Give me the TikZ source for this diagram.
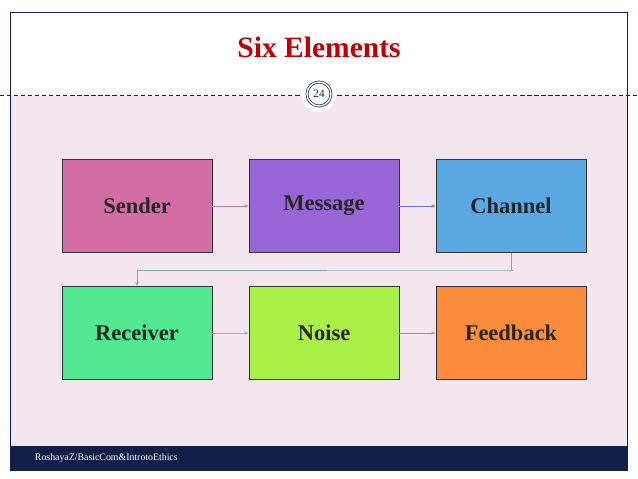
\documentclass[tikz,border=0pt]{standalone}
\usepackage{fontspec}
\setmainfont{Liberation Serif}
\usetikzlibrary{positioning,arrows.meta}

\begin{document}
\begin{tikzpicture}[x=0.025cm,y=-0.025cm,
    elem/.style={draw=black!80,line width=0.5pt,minimum width=150*0.025cm,minimum height=93*0.025cm,
      font=\fontsize{16}{18}\selectfont\bfseries,text=black!85},
    link/.style={line width=0.5pt,-{Stealth[length=3pt]}}]
    \definecolor{pinkbg}{RGB}{243,230,238}
    \definecolor{navy}{RGB}{16,32,72}
    \definecolor{titlered}{RGB}{192,0,0}
    \useasboundingbox (0,0) rectangle (638,479);
    \fill[white] (0,0) rectangle (638,479);
    \fill[pinkbg] (10,96) rectangle (627,446);
    \draw[navy,line width=0.6pt] (10,12) rectangle (627,470);
    \fill[navy] (10,446) rectangle (627,470);
    \draw[navy,densely dashed,line width=0.4pt] (0,95) -- (638,95);
    \node[font=\fontsize{21}{24}\selectfont\bfseries,text=titlered] (title) at (319,47) {Six Elements};
    \node[circle,fill=white,minimum size=34*0.025cm] (pagebg) at (319,95) {};
    \node[circle,draw=navy,double=white,double distance=1pt,line width=0.5pt,minimum size=24*0.025cm,
      inner sep=0,font=\fontsize{8}{9}\selectfont,text=navy] (page) at (319,94) {24};
    \node[anchor=west,text=white,font=\fontsize{7}{8}\selectfont] (foot) at (30,458) {RoshayaZ/BasicCom\&IntrotoEthics};

    % first row
    \node[elem,fill={rgb,255:red,210;green,110;blue,165}] (sender) at (137,206) {Sender};
    \node[elem,fill={rgb,255:red,152;green,102;blue,215}] (message) at (324,206) {Message};
    \node[elem,fill={rgb,255:red,90;green,168;blue,225}] (channel) at (511,206) {Channel};
    % second row
    \node[elem,fill={rgb,255:red,82;green,232;blue,145}] (receiver) at (137,333) {Receiver};
    \node[elem,fill={rgb,255:red,170;green,240;blue,70}] (noise) at (324,333) {Noise};
    \node[elem,fill={rgb,255:red,250;green,140;blue,60}] (feedback) at (511,333) {Feedback};

    \coordinate (turn) at (513,270);
    \draw[link,draw={rgb,255:red,200;green,120;blue,170}] (sender) -- (message);
    \draw[link,draw={rgb,255:red,100;green,120;blue,200}] (message) -- (channel);
    \draw[link,draw={rgb,255:red,120;green,170;blue,170}] (channel.south) |- (turn) -| (receiver.north);
    \draw[link,draw={rgb,255:red,120;green,200;blue,140}] (receiver) -- (noise);
    \draw[link,draw={rgb,255:red,220;green,130;blue,90}] (noise) -- (feedback);
\end{tikzpicture}
\end{document}
